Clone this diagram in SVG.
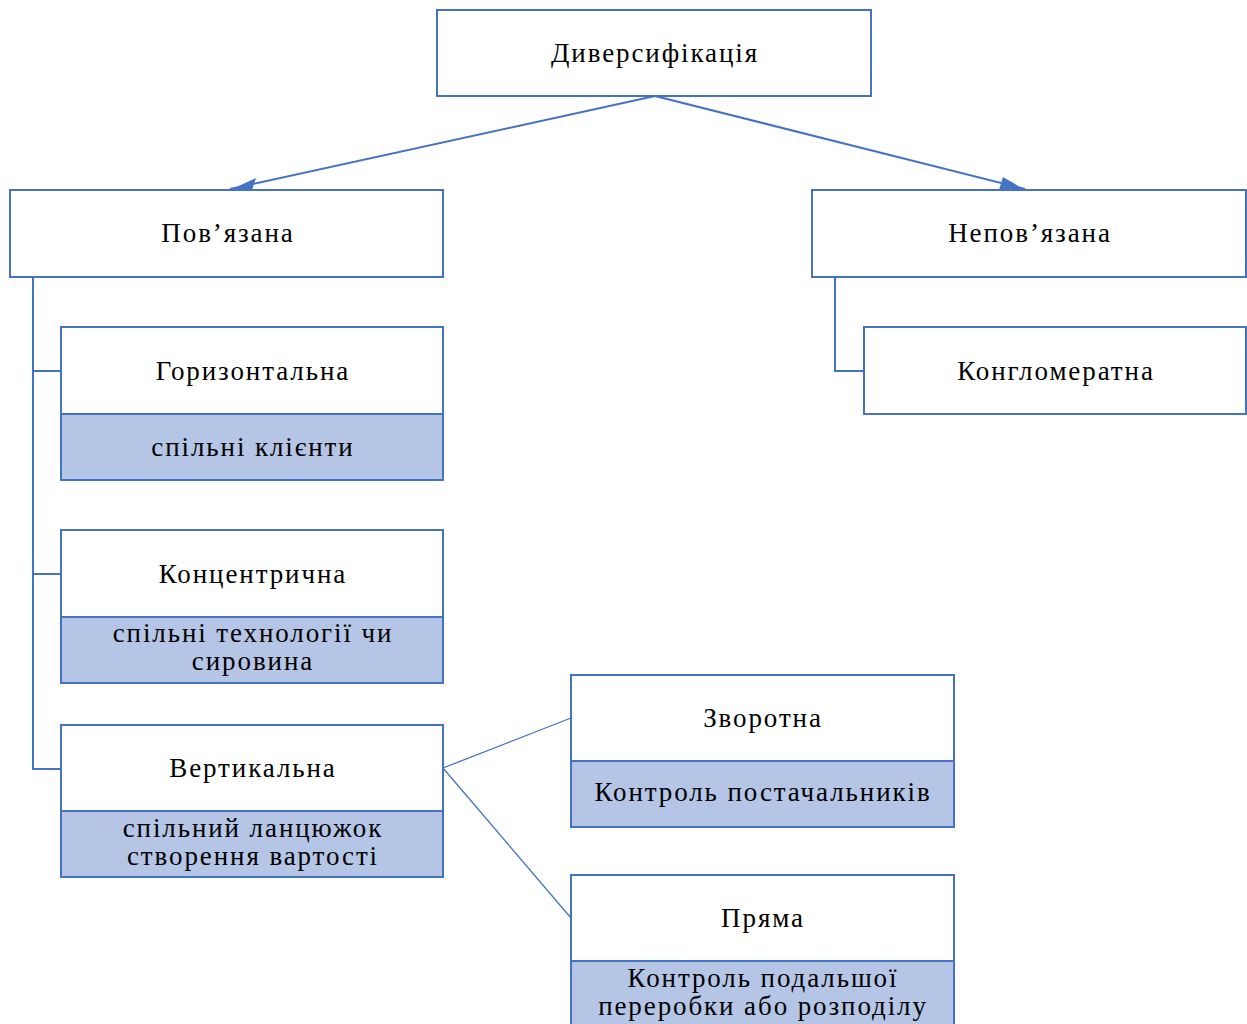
<svg xmlns="http://www.w3.org/2000/svg" width="1247" height="1024" viewBox="0 0 1247 1024">
<style>
.b{fill:#fff;stroke:#4472C4;stroke-width:2}
.f{fill:#B4C5E6;stroke:#4472C4;stroke-width:2}
.t{font-family:"Liberation Serif","Times New Roman",serif;font-size:27px;fill:#000;text-anchor:middle;letter-spacing:1.9px}
.c{fill:none;stroke:#4472C4;stroke-width:2}
.c1{fill:none;stroke:#4472C4;stroke-width:1.3}
</style>
<rect width="1247" height="1024" fill="#fff"/>
<g id="connectors">
<path class="c" d="M655,96 L230,189"/>
<path class="c" d="M655,96 L1025,189"/>
<polygon points="230,190 256,178 252,190" fill="#4472C4"/>
<polygon points="1025,190 999,190 1003,177" fill="#4472C4"/>
<path class="c" d="M33,277 V769 H61 M33,371 H61 M33,574 H61"/>
<path class="c" d="M835,277 V371 H864"/>
<path class="c1" d="M443,768 L571,718 M443,768 L571,918"/>
</g>
<g id="n-diversyfikatsiia"><rect class="b" x="437" y="10" width="434" height="86"/><text class="t" x="655" y="62">Диверсифікація</text></g>
<g id="n-poviazana"><rect class="b" x="10" y="190" width="433" height="87"/><text class="t" x="228" y="242">Пов’язана</text></g>
<g id="n-nepoviazana"><rect class="b" x="812" y="190" width="434" height="87"/><text class="t" x="1030" y="242">Непов’язана</text></g>
<g id="n-horyzontalna"><rect class="b" x="61" y="327" width="382" height="87"/><rect class="f" x="61" y="414" width="382" height="66"/><text class="t" x="253" y="380">Горизонтальна</text><text class="t" x="253" y="456">спільні клієнти</text></g>
<g id="n-kontsentrychna"><rect class="b" x="61" y="530" width="382" height="87"/><rect class="f" x="61" y="617" width="382" height="66"/><text class="t" x="253" y="583">Концентрична</text><text class="t" x="253" y="642">спільні технології чи</text><text class="t" x="253" y="670">сировина</text></g>
<g id="n-vertykalna"><rect class="b" x="61" y="725" width="382" height="86"/><rect class="f" x="61" y="811" width="382" height="66"/><text class="t" x="253" y="777">Вертикальна</text><text class="t" x="253" y="837">спільний ланцюжок</text><text class="t" x="253" y="865">створення вартості</text></g>
<g id="n-konhlomeratna"><rect class="b" x="864" y="327" width="382" height="87"/><text class="t" x="1056" y="380">Конгломератна</text></g>
<g id="n-zvorotna"><rect class="b" x="571" y="675" width="383" height="86"/><rect class="f" x="571" y="761" width="383" height="66"/><text class="t" x="763" y="727">Зворотна</text><text class="t" x="763" y="801">Контроль постачальників</text></g>
<g id="n-priama"><rect class="b" x="571" y="875" width="383" height="86"/><rect class="f" x="571" y="961" width="383" height="70"/><text class="t" x="763" y="987">Контроль подальшої</text><text class="t" x="763" y="927">Пряма</text><text class="t" x="763" y="1015">переробки або розподілу</text></g>
</svg>
